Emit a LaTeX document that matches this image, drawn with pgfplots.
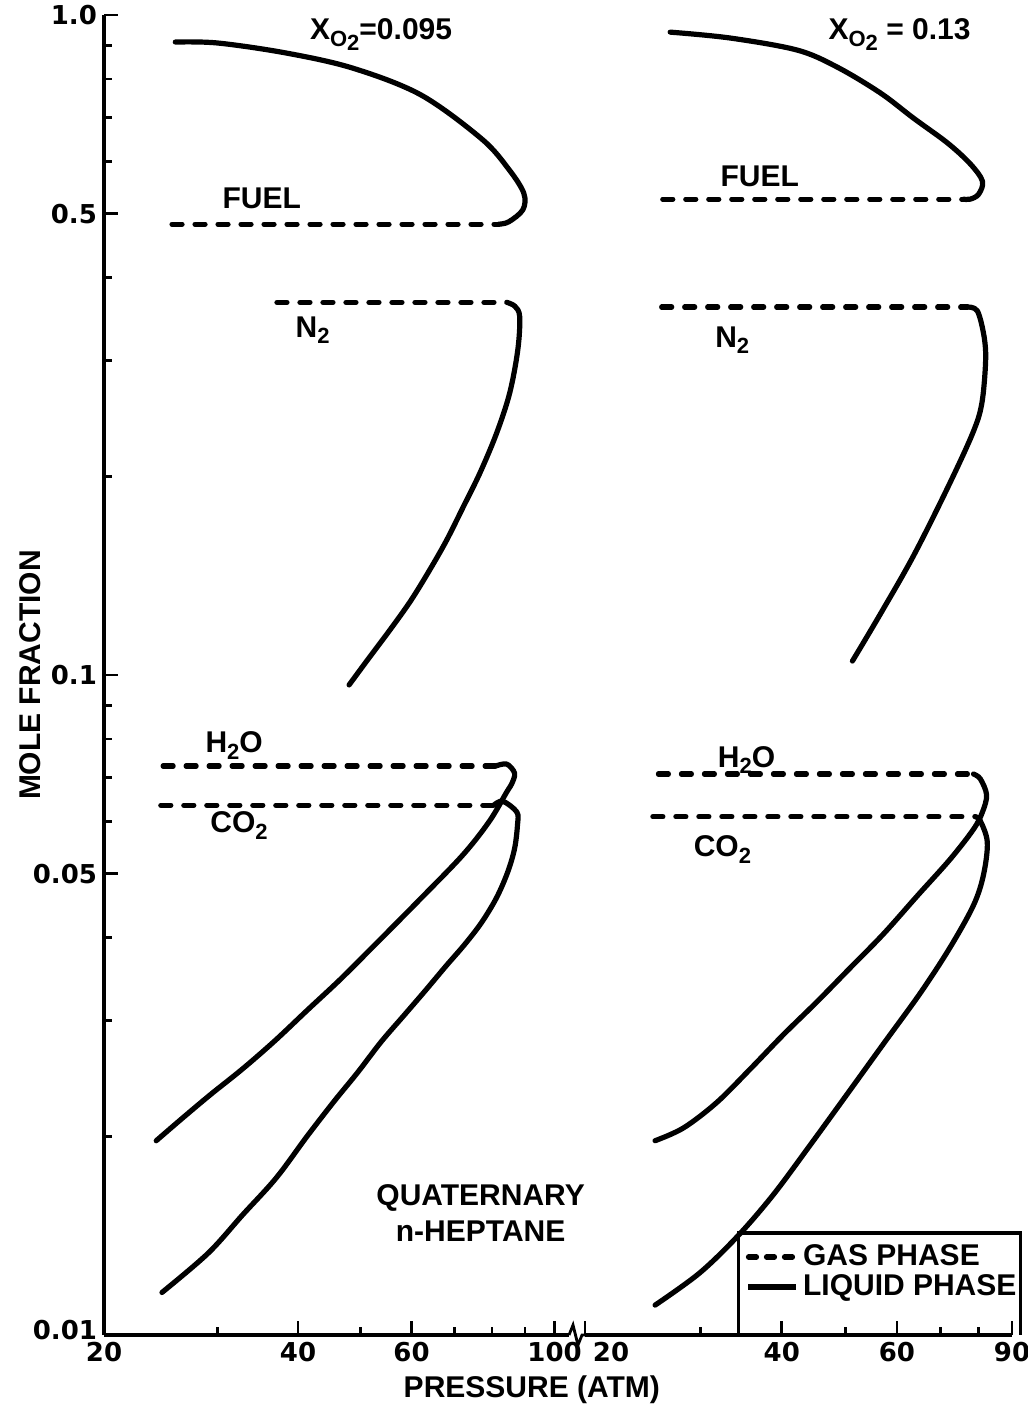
\documentclass[border=0pt]{standalone}
\usepackage{fontspec}
\setmainfont{Liberation Sans}
\newfontfamily\numfont{DejaVu Sans}
\usepackage{pgfplots}
\pgfplotsset{compat=1.18}

\newcommand\lbl{\fontsize{15}{18}\selectfont\bfseries}
\newcommand\numlbl{\fontsize{13}{15}\selectfont\numfont\bfseries}
\newcommand\sub[1]{\raisebox{-0.4ex}{\fontsize{11}{12}\selectfont #1}}

\tikzset{
  gasline/.style={black, line width=2.6pt, line cap=round, dash pattern=on 5pt off 6.5pt},
  liqline/.style={black, line width=2.6pt, line cap=round, line join=round, smooth, tension=0.55},
  txtlab/.style={anchor=base west, font=\lbl, inner sep=0pt},
}
\pgfplotsset{
  mypanel/.style={
    scale only axis, height=660pt,
    ymin=0.01, ymax=1, clip=false,
    tick align=inside, major tick length=7pt, minor tick length=4pt,
    tick style={black, line width=1.4pt},
    axis line style={line width=1.6pt},
    tick label style={font=\numlbl},
  },
}

\begin{document}
\begin{tikzpicture}
\path[use as bounding box] (-52pt,-40pt) rectangle (462pt,667.5pt);

% X_O2 = 0.095
\begin{loglogaxis}[mypanel, width=232.5pt, xmin=20, xmax=105.3,
  axis x line*=bottom, axis y line*=left,
  xtick={20,40,60,100}, xticklabels={20,40,60,100},
  minor xtick={30,50,70,80,90},
  ytick={0.01,0.05,0.1,0.5,1}, yticklabels={\raisebox{5pt}{0.01},0.05,0.1,0.5,1.0},
  minor ytick={0.02,0.03,0.04,0.06,0.07,0.08,0.09,0.2,0.3,0.4,0.6,0.7,0.8,0.9},
  ylabel={MOLE FRACTION}, xlabel={PRESSURE (ATM)},
  label style={font=\lbl},
  ylabel style={at={(axis description cs:-0.159,0.5)}, anchor=center},
  xlabel style={at={(ticklabel cs:0.92)}, anchor=near ticklabel},
]
% fuel
\addplot[gasline, forget plot] coordinates {(25.5,0.482) (81.9,0.482)};
\addplot[liqline, forget plot] coordinates {(81.9,0.482) (84.9,0.486) (89.3,0.507) (89.6,0.537) (84.9,0.584) (77.1,0.649) (62.0,0.757) (48.6,0.831) (38.3,0.876) (30.0,0.907) (25.8,0.910)};
% N2
\addplot[gasline, forget plot] coordinates {(37.1,0.367) (84.3,0.367)};
\addplot[liqline, forget plot] coordinates {(84.3,0.367) (86.8,0.362) (88.3,0.349) (87.7,0.311) (85.2,0.2675) (81.3,0.2325) (76.6,0.2023) (72.1,0.1794) (68.0,0.160) (64.0,0.1442) (59.8,0.1295) (55.5,0.1169) (51.3,0.1055) (48.0,0.0966)};
% H2O
\addplot[gasline, forget plot] coordinates {(24.7,0.0728) (81.0,0.0728)};
\addplot[liqline, forget plot] coordinates {(81.0,0.0728) (84.3,0.0733) (86.7,0.0710) (85.8,0.0684) (84.3,0.0665) (79.3,0.0601) (72.1,0.0534) (61.8,0.0457) (52.2,0.0387) (46.4,0.0345) (41.4,0.0311) (36.8,0.0279) (32.8,0.0253) (29.2,0.0231) (26.3,0.0212) (24.1,0.0197)};
% CO2
\addplot[gasline, forget plot] coordinates {(24.5,0.0635) (80.5,0.0635)};
\addplot[liqline, forget plot] coordinates {(80.5,0.0635) (83.1,0.0644) (87.4,0.0620) (87.6,0.0593) (86.7,0.0546) (84.6,0.0503) (81.3,0.0460) (77.1,0.0422) (72.6,0.0391) (67.8,0.0362) (63.1,0.0333) (58.4,0.0305) (53.8,0.0278) (49.5,0.0250) (45.5,0.0226) (41.3,0.0200) (37.0,0.0173) (32.8,0.0152) (29.0,0.0133) (24.6,0.0116)};

\node[txtlab] at (axis cs:41.7,0.917) {X\sub{O\sub{2}}=0.095};
\node[txtlab] at (axis cs:30.5,0.510) {FUEL};
\node[txtlab] at (axis cs:39.6,0.325) {N\sub{2}};
\node[txtlab] at (axis cs:28.7,0.0762) {H\sub{2}O};
\node[txtlab] at (axis cs:29.2,0.0577) {CO\sub{2}};
\node[anchor=north, font=\lbl, inner sep=0pt, align=center] at (axis cs:76.8,0.0169) {QUATERNARY\\n-HEPTANE};
% axis break
\draw[line width=1.4pt] (axis cs:105.3,0.01) -- ++(2pt,5pt) -- ++(2.5pt,-10pt) -- ++(2pt,5pt) -- ++(1.5pt,0pt);
\end{loglogaxis}

% X_O2 = 0.13
\begin{loglogaxis}[mypanel, at={(240.5pt,0pt)}, width=213.5pt, xmin=20, xmax=90,
  axis x line*=bottom, axis y line=none,
  xtick={20,40,60,90}, xticklabels={\hspace{26pt}20,40,60,90},
  minor xtick={30,50,70,80},
  legend style={at={(axis cs:35.2,0.0139)}, anchor=north west, draw=none, fill=none,
    font=\lbl, inner sep=0pt, row sep=-1pt, cells={anchor=west}},
  legend image code/.code={\draw[#1] (0pt,0pt) -- (24pt,0pt);},
]
\addlegendimage{black, line width=2.6pt, line cap=round, dash pattern=on 4pt off 5pt}
\addlegendentry{GAS PHASE}
\addlegendimage{black, line width=2.6pt}
\addlegendentry{LIQUID PHASE}
% fuel
\addplot[gasline, forget plot] coordinates {(26.3,0.526) (75.9,0.526)};
\addplot[liqline, forget plot] coordinates {(75.9,0.526) (77.7,0.526) (80.0,0.535) (81.1,0.560) (77.7,0.595) (71.7,0.640) (63.6,0.698) (56.6,0.762) (48.6,0.834) (42.2,0.885) (33.3,0.923) (27.0,0.942)};
% N2
\addplot[gasline, forget plot] coordinates {(26.2,0.361) (76.9,0.361)};
\addplot[liqline, forget plot] coordinates {(76.9,0.361) (79.7,0.356) (81.6,0.325) (82.0,0.298) (80.9,0.2575) (78.3,0.232) (71.7,0.192) (63.6,0.1515) (56.6,0.1237) (51.3,0.105)};
% H2O
\addplot[gasline, forget plot] coordinates {(25.9,0.0708) (78.6,0.0708)};
\addplot[liqline, forget plot] coordinates {(78.6,0.0708) (80.5,0.0696) (82.3,0.0658) (81.1,0.0620) (78.6,0.0584) (72.4,0.0526) (64.5,0.0463) (57.2,0.0405) (50.9,0.0360) (45.3,0.0320) (40.2,0.0285) (35.8,0.0253) (31.8,0.0225) (28.3,0.0206) (25.6,0.0197)};
% CO2
\addplot[gasline, forget plot] coordinates {(25.4,0.0610) (79.1,0.0610)};
\addplot[liqline, forget plot] coordinates {(79.1,0.0610) (80.5,0.0601) (82.5,0.0558) (81.4,0.0498) (78.6,0.0448) (72.4,0.0387) (65.2,0.0330) (57.2,0.0276) (50.4,0.0232) (44.2,0.0194) (38.8,0.0163) (34.2,0.0141) (29.9,0.0124) (25.6,0.0111)};

\node[txtlab] at (axis cs:47.1,0.917) {X\sub{O\sub{2}} = 0.13};
\node[txtlab] at (axis cs:32.2,0.549) {FUEL};
\node[txtlab] at (axis cs:31.6,0.314) {N\sub{2}};
\node[txtlab] at (axis cs:31.9,0.0725) {H\sub{2}O};
\node[txtlab] at (axis cs:29.3,0.0530) {CO\sub{2}};
% legend frame, open to the axis
\draw[line width=1.6pt] (axis cs:34.3,0.01) |- (axis cs:92.7,0.01428) -- (axis cs:92.7,0.01);
\end{loglogaxis}
\end{tikzpicture}
\end{document}
